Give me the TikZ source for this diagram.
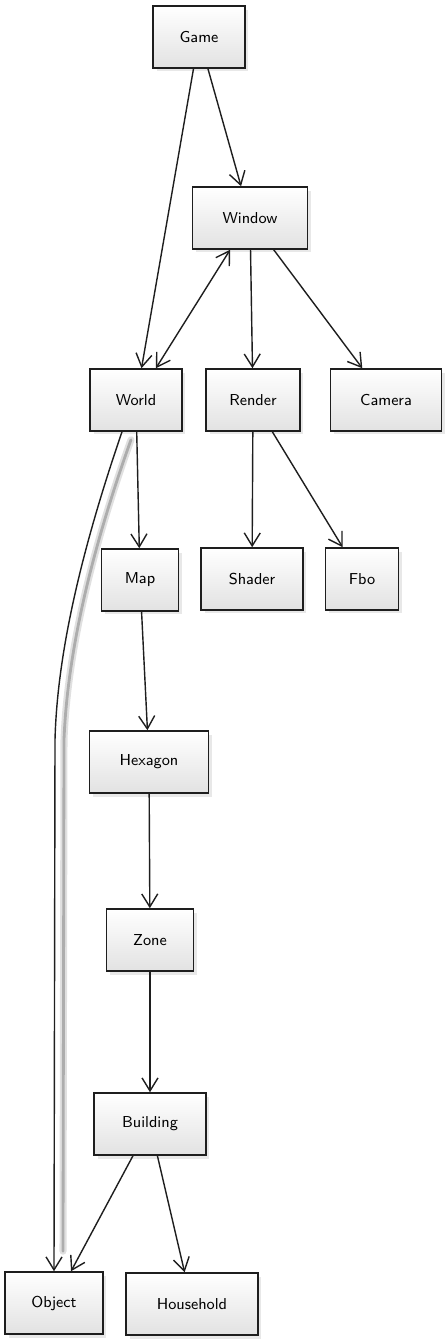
\documentclass[tikz,border=0pt]{standalone}
\usetikzlibrary{arrows.meta,positioning,shadows}
\definecolor{ink}{HTML}{1E1E1E}
\definecolor{boxbot}{HTML}{E2E2E2}
\begin{document}
\begin{tikzpicture}[x=0.02cm,y=-0.02cm,
cls/.style={draw=ink,line width=0.9pt,top color=white,bottom color=boxbot,
  minimum height=12.4mm,inner sep=2pt,font=\sffamily\small,
  drop shadow={shadow xshift=0.7mm,shadow yshift=-0.7mm,fill=black!18}},
arr/.style={-{Straight Barb[length=2.6mm,width=3.2mm]},line width=0.8pt,draw=ink},
both/.style={{Straight Barb[length=2.6mm,width=3.2mm]}-{Straight Barb[length=2.6mm,width=3.2mm]},
  line width=0.8pt,draw=ink},
glow/.style={draw=black!12,line width=4pt,line cap=round},
glowcore/.style={draw=black!32,line width=1.6pt,line cap=round}]
\useasboundingbox (0,0) rectangle (445,1341);
\node[cls,minimum width=18.4mm] (game) at (199,37) {Game};
\node[cls,minimum width=23mm] (window) at (250,218) {Window};
\node[cls,minimum width=18.4mm] (world) at (136,400) {World};
\node[cls,minimum width=18.8mm] (render) at (253,400) {Render};
\node[cls,minimum width=22.2mm] (camera) at (386,400) {Camera};
\node[cls,minimum width=15.4mm] (map) at (140,580) {Map};
\node[cls,minimum width=20.4mm] (shader) at (252,579) {Shader};
\node[cls,minimum width=14.6mm] (fbo) at (362,579) {Fbo};
\node[cls,minimum width=23.8mm] (hexagon) at (149,762) {Hexagon};
\node[cls,minimum width=17.4mm] (zone) at (150,940) {Zone};
\node[cls,minimum width=22.4mm] (building) at (150,1124) {Building};
\node[cls,minimum width=19.6mm] (object) at (54,1303) {Object};
\node[cls,minimum width=26.4mm] (household) at (192,1304) {Household};
\coordinate (bend) at (55,740);
% shadow of the long link
\foreach \s in {glow,glowcore}
  \draw[\s] ([xshift=-1.0mm,yshift=-1.6mm]world.south) .. controls (88,560) and (67,660)
    .. ([xshift=1.8mm]bend) -- ([xshift=1.8mm,yshift=4mm]object.north);
\draw[arr] (game)--(window);\draw[arr] (game)--(world);
\draw[both] (world)--(window);
\draw[arr] (window)--(render);\draw[arr] (window)--(camera);
\draw[arr] (world)--(map);
\draw[arr] (render)--(shader);\draw[arr] (render)--(fbo);
\draw[arr] (map)--(hexagon);\draw[arr] (hexagon)--(zone);
\draw[arr] (zone)--(building);
\draw[arr] (building)--(object);\draw[arr] (building)--(household);
\draw[arr] ([xshift=-2.8mm]world.south) .. controls (78,560) and (57,660) .. (bend) -- (object.north);
\end{tikzpicture}
\end{document}
